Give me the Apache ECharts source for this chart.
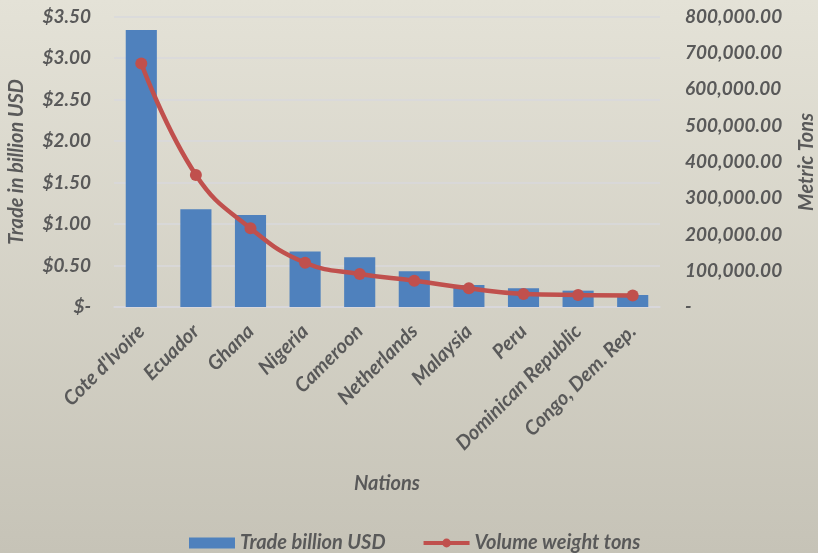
<!DOCTYPE html>
<html><head><meta charset="utf-8">
<script src="https://cdn.jsdelivr.net/npm/echarts@6/dist/echarts.min.js"></script>
<style>html,body{margin:0;padding:0;}#c{width:818px;height:553px;background:linear-gradient(180deg,#e4e2d7 0%,#c6c3b7 100%);}</style>
</head><body><div id="c"></div>
<script>
const categories = ["Cote d'Ivoire","Ecuador","Ghana","Nigeria","Cameroon","Netherlands","Malaysia","Peru","Dominican Republic","Congo, Dem. Rep."];
const tradeBillionUSD = [3.34,1.18,1.11,0.67,0.60,0.43,0.265,0.225,0.197,0.145];
const volumeTons = [671000,364000,217000,122000,91000,72500,51500,36000,33000,32000];
const leftTicks = {min:0,max:3.5,interval:0.5};
const rightTicks = {min:0,max:800000,interval:100000};

const FONT = 'Lato';
const TXT = '#595959';
const chart = echarts.init(document.getElementById('c'), null, {renderer:'canvas'});
chart.setOption({
  backgroundColor: 'transparent',
  textStyle:{fontFamily:FONT},
  grid:{left:114, right:158, top:16.7, bottom:246, containLabel:false, outerBoundsMode:'none'},
  legend:{
    top:528, left:184, itemGap:36, itemWidth:46, itemHeight:11,
    textStyle:{color:TXT, fontSize:20, fontStyle:'italic', fontWeight:'bold', fontFamily:FONT},
    data:[{name:'Trade billion USD', icon:'rect'},{name:'Volume weight tons', lineStyle:{width:4}}]
  },
  xAxis:{
    type:'category', data:categories,
    name:'Nations', nameLocation:'middle', nameGap:167,
    nameTextStyle:{color:TXT, fontSize:20, fontStyle:'italic', fontWeight:'bold', verticalAlign:'top'},
    axisLine:{show:true, lineStyle:{color:'#d8d8dc', width:1.5}},
    axisTick:{show:false},
    axisLabel:{rotate:45, interval:0, margin:21, color:TXT, fontSize:20, fontStyle:'italic', fontWeight:'bold'}
  },
  yAxis:[{
    type:'value', min:leftTicks.min, max:leftTicks.max, interval:leftTicks.interval,
    name:'Trade in billion USD', nameLocation:'middle', nameGap:87, nameRotate:90,
    nameTextStyle:{color:TXT, fontSize:20, fontStyle:'italic', fontWeight:'bold'},
    axisLine:{show:false}, axisTick:{show:false},
    splitLine:{lineStyle:{color:'#d8d8dc', width:1.5}},
    axisLabel:{margin:23, color:TXT, fontSize:19, fontStyle:'italic', fontWeight:'bold',
      formatter:v=> v===0 ? '$-' : '$'+v.toFixed(2)}
  },{
    type:'value', min:rightTicks.min, max:rightTicks.max, interval:rightTicks.interval,
    name:'Metric Tons', nameLocation:'middle', nameGap:137, nameRotate:90,
    nameTextStyle:{color:TXT, fontSize:20, fontStyle:'italic', fontWeight:'bold'},
    axisLine:{show:false}, axisTick:{show:false}, splitLine:{show:false},
    axisLabel:{margin:25, color:TXT, fontSize:19, fontStyle:'italic', fontWeight:'bold',
      formatter:v=> v===0 ? '-' : v.toLocaleString('en-US',{minimumFractionDigits:2, maximumFractionDigits:2})}
  }],
  series:[{
    name:'Trade billion USD', type:'bar', data:tradeBillionUSD, yAxisIndex:0,
    barWidth:'57%', itemStyle:{color:'#4f81bd'}
  },{
    name:'Volume weight tons', type:'line', data:volumeTons, yAxisIndex:1,
    smooth:0.45, symbol:'circle', symbolSize:12,
    lineStyle:{color:'#c0504d', width:4.5}, itemStyle:{color:'#c0504d'}
  }]
});
</script></body></html>
